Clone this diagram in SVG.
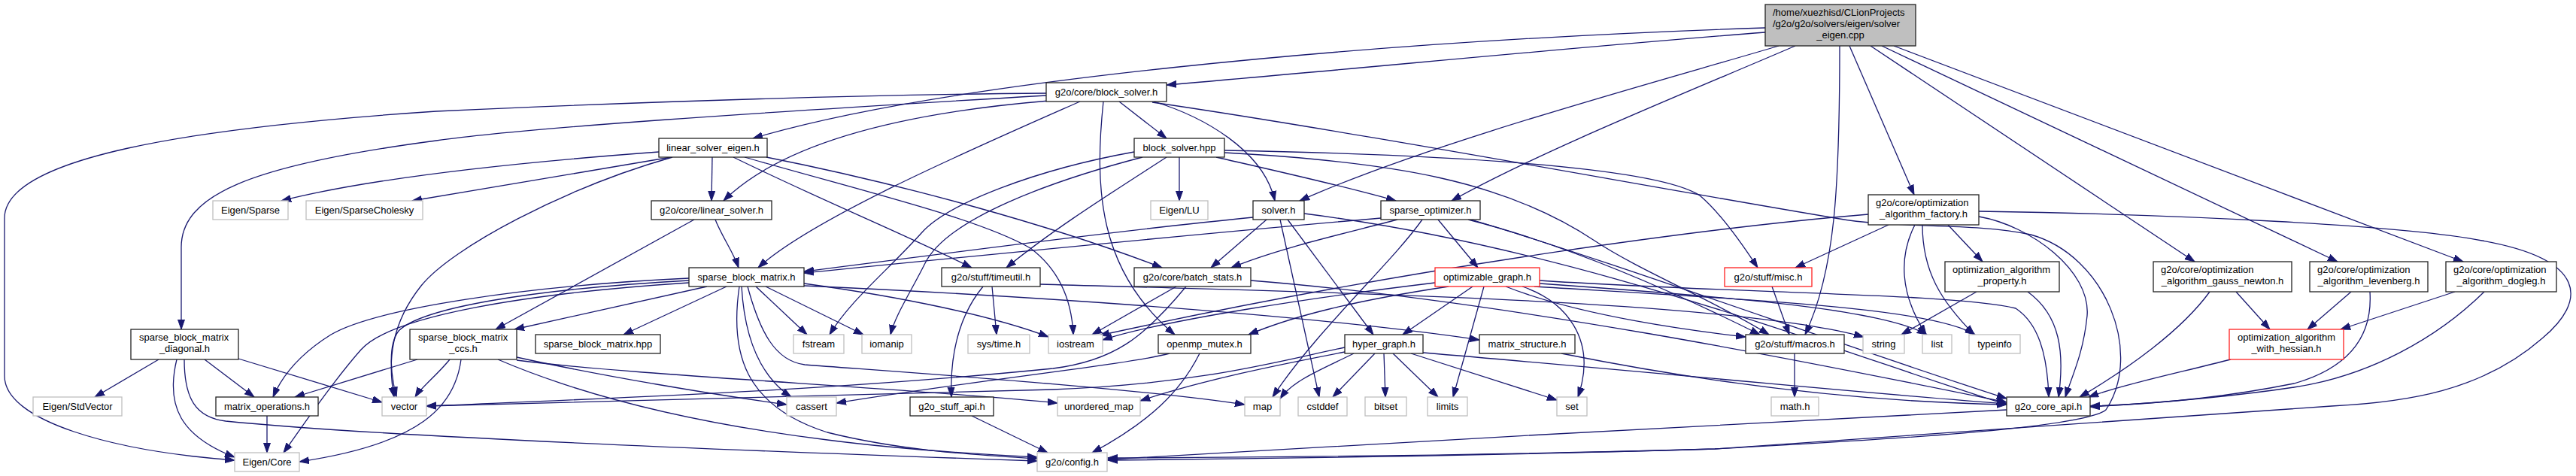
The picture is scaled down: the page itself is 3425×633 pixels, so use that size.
<svg xmlns="http://www.w3.org/2000/svg" width="3425" height="633" viewBox="0 0 3425 633">
<style>
rect{fill:#fff;stroke:#222;stroke-width:1.3}
.g rect{stroke:#bfbfbf}
.r rect{stroke:#ff2020}
.root rect{fill:#bfbfbf}
text{font-family:"Liberation Sans",Arial,sans-serif;font-size:13px;fill:#000}
.m{text-anchor:middle}
.e path{fill:none;stroke:#191970;stroke-width:1.3;marker-end:url(#a)}
</style>
<defs>
<marker id="a" markerWidth="14" markerHeight="11" refX="13" refY="5" orient="auto" markerUnits="userSpaceOnUse"><path d="M0,0.5 L13,5 L0,9.5 z" fill="#191970" stroke="#191970" stroke-width="1"/></marker>
</defs>
<rect x="0" y="0" width="3425" height="633" style="fill:#fff;stroke:none"/>
<g id="edges" class="e">
<path d="M2347,43 C2100,62 1800,92 1551,113"/>
<path d="M2347,37 C1800,55 1250,110 1001,184"/>
<path d="M2365,61 C2200,110 1900,190 1728,267"/>
<path d="M2387,61 C2250,120 2050,200 1930,267"/>
<path d="M2446,61 C2446,250 2440,360 2400,445"/>
<path d="M2459,61 L2545,259"/>
<path d="M2487,61 L2918,348"/>
<path d="M2502,61 L3108,348"/>
<path d="M2518,61 L3275,348"/>
<path d="M1391,124 C1100,126 800,138 580,148 C250,170 6,210 6,290 L6,500 C6,560 150,600 312,612"/>
<path d="M1391,127 C1000,150 700,170 580,187 C330,220 240,260 241,330 L241,438"/>
<path d="M1395,134 C1200,150 1040,190 962,267"/>
<path d="M1436,135 C1300,195 1080,290 1008,356"/>
<path d="M1467,135 C1455,250 1460,360 1562,445"/>
<path d="M1488,135 L1551,184"/>
<path d="M1534,135 C1600,155 1680,200 1695,267"/>
<path d="M1532,136 C1800,175 2200,250 2440,290 C2520,305 2620,295 2700,312 C2800,340 2850,470 2800,545 C2770,570 2500,585 2280,597 C2000,605 1700,610 1473,612"/>
<path d="M1568,209 L1568,267"/>
<path d="M1617,209 C1700,228 1790,248 1856,267"/>
<path d="M1628,200 C1900,205 2200,220 2260,260 C2290,285 2320,330 2337,356"/>
<path d="M1628,203 C1850,215 2000,240 2120,320 C2180,360 2280,400 2352,445"/>
<path d="M1551,209 C1480,255 1400,305 1338,356"/>
<path d="M1519,209 C1400,240 1260,290 1230,350 C1210,390 1190,420 1184,445"/>
<path d="M1508,202 C1380,225 1260,270 1225,310 C1180,360 1130,400 1103,445"/>
<path d="M876,202 C700,215 500,235 374,267"/>
<path d="M892,209 C780,228 650,250 548,267"/>
<path d="M947,209 L946,267"/>
<path d="M894,209 C750,250 600,330 560,380 C520,430 515,480 524,528"/>
<path d="M1019,209 C1200,245 1400,300 1545,356"/>
<path d="M990,209 C1150,255 1300,290 1370,330 C1410,360 1425,400 1427,445"/>
<path d="M975,209 C1100,270 1200,310 1292,356"/>
<path d="M951,292 C960,315 975,335 982,356"/>
<path d="M923,292 L659,438"/>
<path d="M940,381 L684,438"/>
<path d="M966,381 L829,445"/>
<path d="M1005,381 L1073,445"/>
<path d="M1018,381 L1148,445"/>
<path d="M1069,377 C1200,395 1320,420 1394,448"/>
<path d="M994,381 C1010,440 1030,480 1070,485 C1200,495 1500,515 1655,538"/>
<path d="M986,381 C990,450 1010,500 1052,528"/>
<path d="M983,381 C970,470 990,540 1100,575 C1200,600 1300,605 1379,610"/>
<path d="M916,370 C700,380 500,410 440,445 C400,470 375,500 363,528"/>
<path d="M916,373 C700,385 560,410 530,440 C515,460 520,500 527,528"/>
<path d="M916,376 C700,390 520,420 480,465 C440,510 400,570 377,602"/>
<path d="M1069,380 C1400,395 1750,420 1967,452"/>
<path d="M555,478 L392,528"/>
<path d="M598,478 C580,500 560,515 552,528"/>
<path d="M613,478 C605,540 560,590 398,614"/>
<path d="M662,478 C760,520 900,560 1100,585 C1200,598 1300,604 1379,608"/>
<path d="M687,475 C800,500 950,525 1046,538"/>
<path d="M687,479 C850,500 1200,515 1406,536"/>
<path d="M211,478 L126,528"/>
<path d="M235,478 C220,540 240,580 312,608"/>
<path d="M272,478 L338,528"/>
<path d="M317,477 L508,535"/>
<path d="M245,478 C245,530 260,555 300,560 C500,580 1000,600 1379,613"/>
<path d="M355,553 L355,602"/>
<path d="M1307,381 C1275,420 1263,470 1265,528"/>
<path d="M1319,381 L1325,445"/>
<path d="M1383,378 C1800,390 2300,400 2478,448"/>
<path d="M1292,553 L1393,602"/>
<path d="M1564,381 L1452,445"/>
<path d="M1577,381 C1520,450 1480,480 1400,490 C1100,520 800,530 567,540"/>
<path d="M1663,373 C2000,400 2400,480 2668,535"/>
<path d="M1595,470 C1570,520 1530,560 1452,602"/>
<path d="M1555,470 C1500,485 1300,505 1112,536"/>
<path d="M1666,289 C1450,310 1200,345 1069,361"/>
<path d="M1684,292 L1610,356"/>
<path d="M1702,292 L1754,528"/>
<path d="M1712,292 L1826,445"/>
<path d="M1734,284 C2100,330 2450,470 2668,538"/>
<path d="M1836,290 C1600,310 1250,345 1069,363"/>
<path d="M1858,292 C1790,310 1700,330 1637,356"/>
<path d="M1891,292 C1850,350 1750,440 1692,528"/>
<path d="M1912,292 L1965,356"/>
<path d="M1952,292 C2100,330 2250,400 2340,445"/>
<path d="M1956,292 C2150,350 2450,460 2668,530"/>
<path d="M1908,376 C1750,395 1550,425 1466,452"/>
<path d="M1926,381 C1800,400 1720,420 1660,445"/>
<path d="M1958,381 L1865,445"/>
<path d="M1973,381 L1932,528"/>
<path d="M2024,381 C2080,400 2125,450 2098,528"/>
<path d="M2047,373 C2300,390 2600,390 2680,410 C2710,430 2722,470 2724,528"/>
<path d="M2047,377 C2300,395 2500,410 2562,445"/>
<path d="M2040,381 C2350,400 2570,410 2626,445"/>
<path d="M2002,381 C2100,420 2250,440 2321,448"/>
<path d="M1800,470 C1760,490 1720,505 1702,530"/>
<path d="M1788,468 C1700,485 1600,505 1516,533"/>
<path d="M1788,462 C1700,480 1600,510 1400,518 C1100,528 800,535 567,540"/>
<path d="M1828,470 L1772,528"/>
<path d="M1840,470 L1842,528"/>
<path d="M1852,470 L1912,528"/>
<path d="M1876,470 L2070,532"/>
<path d="M1892,469 C2200,495 2500,525 2668,537"/>
<path d="M2076,470 C2300,515 2500,535 2668,538"/>
<path d="M2386,470 L2386,528"/>
<path d="M2356,381 L2379,445"/>
<path d="M2511,299 L2387,356"/>
<path d="M2546,299 C2525,340 2525,390 2561,445"/>
<path d="M2556,299 C2556,360 2580,400 2625,445"/>
<path d="M2590,299 L2636,348"/>
<path d="M2484,285 C2300,300 1900,350 1462,446"/>
<path d="M2631,288 C2700,300 2780,360 2775,420 C2770,470 2755,500 2746,528"/>
<path d="M2631,281 C2900,285 3200,300 3300,320 C3440,345 3440,400 3380,450 C3300,520 3200,535 3100,540 C2900,555 2600,575 2280,597 C2000,605 1700,608 1473,609"/>
<path d="M2628,388 L2528,445"/>
<path d="M2696,388 C2740,420 2745,470 2737,528"/>
<path d="M2973,388 L3018,438"/>
<path d="M2938,388 C2900,440 2830,490 2765,528"/>
<path d="M3126,388 L3068,438"/>
<path d="M3151,388 C3155,450 3120,490 3050,510 C2950,530 2850,538 2779,540"/>
<path d="M3264,388 L3112,438"/>
<path d="M3303,388 C3240,450 3150,500 3050,515 C2950,530 2850,537 2779,541"/>
<path d="M2966,478 C2900,495 2820,512 2777,528"/>
<path d="M2668,545 C2400,560 1800,590 1473,611"/>
</g>
<g id="root" class="root"><rect x="2347" y="6" width="200" height="55"/><text x="2357" y="21">/home/xuezhisd/CLionProjects</text><text x="2357" y="36">/g2o/g2o/solvers/eigen/solver</text><text class="m" x="2447" y="51">_eigen.cpp</text></g>
<g id="block_solver_h"><rect x="1391" y="110" width="160" height="25"/><text class="m" x="1471" y="127">g2o/core/block_solver.h</text></g>
<g id="linear_solver_eigen"><rect x="876" y="184" width="144" height="25"/><text class="m" x="948" y="201">linear_solver_eigen.h</text></g>
<g id="block_solver_hpp"><rect x="1508" y="184" width="120" height="25"/><text class="m" x="1568" y="201">block_solver.hpp</text></g>
<g id="eigen_sparse" class="g"><rect x="283" y="267" width="100" height="25"/><text class="m" x="333" y="284">Eigen/Sparse</text></g>
<g id="eigen_sparsecholesky" class="g"><rect x="407" y="267" width="155" height="25"/><text class="m" x="484.5" y="284">Eigen/SparseCholesky</text></g>
<g id="linear_solver_h"><rect x="866" y="267" width="160" height="25"/><text class="m" x="946" y="284">g2o/core/linear_solver.h</text></g>
<g id="eigen_lu" class="g"><rect x="1530" y="267" width="76" height="25"/><text class="m" x="1568" y="284">Eigen/LU</text></g>
<g id="solver_h"><rect x="1666" y="267" width="68" height="25"/><text class="m" x="1700" y="284">solver.h</text></g>
<g id="sparse_optimizer"><rect x="1836" y="267" width="132" height="25"/><text class="m" x="1902" y="284">sparse_optimizer.h</text></g>
<g id="factory"><rect x="2484" y="259" width="147" height="40"/><text x="2494" y="274">g2o/core/optimization</text><text class="m" x="2557.5" y="289">_algorithm_factory.h</text></g>
<g id="sparse_block_matrix_h"><rect x="916" y="356" width="153" height="25"/><text class="m" x="992.5" y="373">sparse_block_matrix.h</text></g>
<g id="timeutil"><rect x="1252" y="356" width="131" height="25"/><text class="m" x="1317.5" y="373">g2o/stuff/timeutil.h</text></g>
<g id="batch_stats"><rect x="1508" y="356" width="155" height="25"/><text class="m" x="1585.5" y="373">g2o/core/batch_stats.h</text></g>
<g id="optimizable_graph" class="r"><rect x="1908" y="356" width="139" height="25"/><text class="m" x="1977.5" y="373">optimizable_graph.h</text></g>
<g id="misc" class="r"><rect x="2293" y="356" width="116" height="25"/><text class="m" x="2351" y="373">g2o/stuff/misc.h</text></g>
<g id="property"><rect x="2586" y="348" width="152" height="40"/><text x="2596" y="363">optimization_algorithm</text><text class="m" x="2662" y="378">_property.h</text></g>
<g id="gauss_newton"><rect x="2863" y="348" width="184" height="40"/><text x="2873" y="363">g2o/core/optimization</text><text class="m" x="2955" y="378">_algorithm_gauss_newton.h</text></g>
<g id="levenberg"><rect x="3071" y="348" width="157" height="40"/><text x="3081" y="363">g2o/core/optimization</text><text class="m" x="3149.5" y="378">_algorithm_levenberg.h</text></g>
<g id="dogleg"><rect x="3252" y="348" width="147" height="40"/><text x="3262" y="363">g2o/core/optimization</text><text class="m" x="3325.5" y="378">_algorithm_dogleg.h</text></g>
<g id="diagonal"><rect x="174" y="438" width="143" height="40"/><text x="185" y="453">sparse_block_matrix</text><text class="m" x="245.5" y="468">_diagonal.h</text></g>
<g id="ccs"><rect x="545" y="438" width="142" height="40"/><text x="556" y="453">sparse_block_matrix</text><text class="m" x="616" y="468">_ccs.h</text></g>
<g id="sparse_block_matrix_hpp"><rect x="712" y="445" width="166" height="25"/><text class="m" x="795" y="462">sparse_block_matrix.hpp</text></g>
<g id="fstream" class="g"><rect x="1055" y="445" width="67" height="25"/><text class="m" x="1088.5" y="462">fstream</text></g>
<g id="iomanip" class="g"><rect x="1146" y="445" width="66" height="25"/><text class="m" x="1179" y="462">iomanip</text></g>
<g id="systime" class="g"><rect x="1287" y="445" width="82" height="25"/><text class="m" x="1328" y="462">sys/time.h</text></g>
<g id="iostream" class="g"><rect x="1394" y="445" width="72" height="25"/><text class="m" x="1430" y="462">iostream</text></g>
<g id="openmp_mutex"><rect x="1540" y="445" width="123" height="25"/><text class="m" x="1601.5" y="462">openmp_mutex.h</text></g>
<g id="hyper_graph"><rect x="1788" y="445" width="104" height="25"/><text class="m" x="1840" y="462">hyper_graph.h</text></g>
<g id="matrix_structure"><rect x="1967" y="445" width="127" height="25"/><text class="m" x="2030.5" y="462">matrix_structure.h</text></g>
<g id="macros"><rect x="2321" y="445" width="131" height="25"/><text class="m" x="2386.5" y="462">g2o/stuff/macros.h</text></g>
<g id="string" class="g"><rect x="2477" y="445" width="55" height="25"/><text class="m" x="2504.5" y="462">string</text></g>
<g id="list" class="g"><rect x="2556" y="445" width="39" height="25"/><text class="m" x="2575.5" y="462">list</text></g>
<g id="typeinfo" class="g"><rect x="2618" y="445" width="68" height="25"/><text class="m" x="2652" y="462">typeinfo</text></g>
<g id="hessian" class="r"><rect x="2964" y="438" width="152" height="40"/><text x="2975" y="453">optimization_algorithm</text><text class="m" x="3040" y="468">_with_hessian.h</text></g>
<g id="stdvector" class="g"><rect x="44" y="528" width="118" height="25"/><text class="m" x="103" y="545">Eigen/StdVector</text></g>
<g id="matrix_operations"><rect x="287" y="528" width="136" height="25"/><text class="m" x="355" y="545">matrix_operations.h</text></g>
<g id="vector" class="g"><rect x="508" y="528" width="59" height="25"/><text class="m" x="537.5" y="545">vector</text></g>
<g id="cassert" class="g"><rect x="1046" y="528" width="66" height="25"/><text class="m" x="1079" y="545">cassert</text></g>
<g id="stuff_api"><rect x="1210" y="528" width="111" height="25"/><text class="m" x="1265.5" y="545">g2o_stuff_api.h</text></g>
<g id="unordered_map" class="g"><rect x="1406" y="528" width="110" height="25"/><text class="m" x="1461" y="545">unordered_map</text></g>
<g id="map" class="g"><rect x="1655" y="528" width="47" height="25"/><text class="m" x="1678.5" y="545">map</text></g>
<g id="cstddef" class="g"><rect x="1726" y="528" width="65" height="25"/><text class="m" x="1758.5" y="545">cstddef</text></g>
<g id="bitset" class="g"><rect x="1815" y="528" width="55" height="25"/><text class="m" x="1842.5" y="545">bitset</text></g>
<g id="limits" class="g"><rect x="1898" y="528" width="53" height="25"/><text class="m" x="1924.5" y="545">limits</text></g>
<g id="set" class="g"><rect x="2070" y="528" width="40" height="25"/><text class="m" x="2090" y="545">set</text></g>
<g id="math" class="g"><rect x="2355" y="528" width="63" height="25"/><text class="m" x="2386.5" y="545">math.h</text></g>
<g id="core_api"><rect x="2668" y="528" width="111" height="25"/><text class="m" x="2723.5" y="545">g2o_core_api.h</text></g>
<g id="eigen_core" class="g"><rect x="312" y="602" width="86" height="25"/><text class="m" x="355" y="619">Eigen/Core</text></g>
<g id="config" class="g"><rect x="1379" y="602" width="93" height="25"/><text class="m" x="1425.5" y="619">g2o/config.h</text></g>
</svg>
